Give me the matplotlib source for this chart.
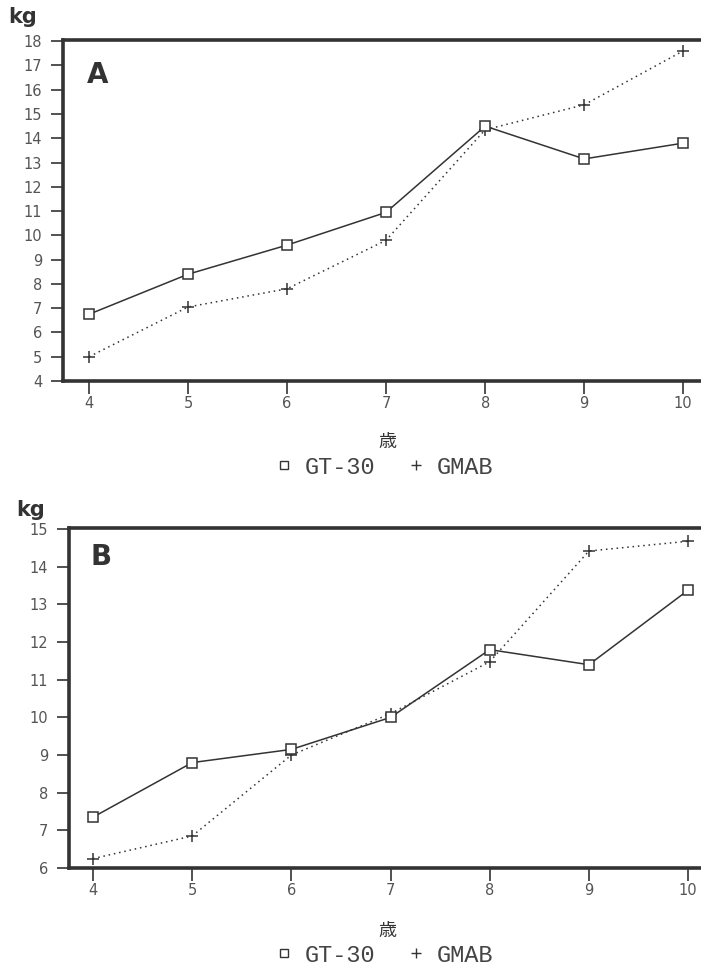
import matplotlib.pyplot as plt
from matplotlib.lines import Line2D

# Data
ages = [4, 5, 6, 7, 8, 9, 10]

gt30_a = [6.75, 8.4, 9.6, 10.95, 14.5, 13.15, 13.8]
gmab_a = [5.0, 7.05, 7.8, 9.8, 14.35, 15.38, 17.6]

gt30_b = [7.35, 8.8, 9.15, 10.0, 11.8, 11.4, 13.38]
gmab_b = [6.25, 6.85, 9.0, 10.1, 11.48, 14.42, 14.68]

yticks_a = list(range(4, 19))
yticks_b = list(range(6, 16))

fig = plt.figure(figsize=(7.01, 9.68), dpi=100)


def draw_panel(rect, gt30, gmab, yticks, ylim, xlim, letter, letter_pos, kg_pos, xlabel_y, legend_y):
    ax = fig.add_axes(rect)
    ax.plot(ages, gt30, color="#333333", lw=1.1, marker="s", ms=7,
            mfc="white", mec="#333333", mew=1.1, zorder=3)
    ax.plot(ages, gmab, color="#333333", lw=1.1, ls=(0, (1, 2.5)), marker="+",
            ms=9, mew=1.1, zorder=2)
    ax.set_xlim(*xlim)
    ax.set_ylim(*ylim)
    ax.set_xticks(ages)
    ax.set_yticks(yticks)
    ax.tick_params(axis="both", direction="out", length=9, width=1.2,
                   colors="#333333", labelsize=10.5, labelcolor="#555555")
    ax.tick_params(axis="y", pad=6)
    ax.tick_params(axis="x", pad=2)
    for s in ["left", "top", "bottom"]:
        ax.spines[s].set_linewidth(2.6)
        ax.spines[s].set_color("#333333")
    ax.spines["right"].set_visible(False)

    fig.text(*letter_pos, letter, fontsize=20, fontweight="bold",
             color="#333333", ha="center", va="center")
    fig.text(*kg_pos, "kg", fontsize=15, fontweight="bold", color="#333333",
             ha="center", va="center")
    fig.text(0.553, xlabel_y, "歳", fontsize=13, family="Noto Sans CJK JP",
             color="#333333", ha="center", va="center")

    handles = [
        Line2D([], [], ls="none", marker="s", ms=5.5, mfc="white", mec="#333333", mew=1.0),
        Line2D([], [], ls="none", marker="+", ms=7, mec="#333333", mew=1.0),
    ]
    ax.legend(handles, ["GT-30", "GMAB"], loc="center", ncol=2, frameon=False,
              bbox_to_anchor=(0.549, legend_y), bbox_transform=fig.transFigure,
              prop={"family": "Liberation Mono", "size": 17}, handlelength=0.6,
              handletextpad=0.6, columnspacing=1.4, labelcolor="#444444",
              borderpad=0.1)
    return ax


draw_panel([0.0899, 0.6064, 0.9101, 0.3523], gt30_a, gmab_a, yticks_a,
           (4, 18.05), (3.737, 10.18), "A", (98 / 701, 1 - 75 / 968),
           (23 / 701, 1 - 17 / 968), 1 - 442 / 968, 1 - 467 / 968)

draw_panel([0.0984, 0.1033, 0.9016, 0.3512], gt30_b, gmab_b, yticks_b,
           (6, 15.03), (3.758, 10.13), "B", (101 / 701, 1 - 557 / 968),
           (31 / 701, 1 - 510 / 968), 1 - 931 / 968, 1 - 955 / 968)

fig.savefig("out.png", dpi=100)
